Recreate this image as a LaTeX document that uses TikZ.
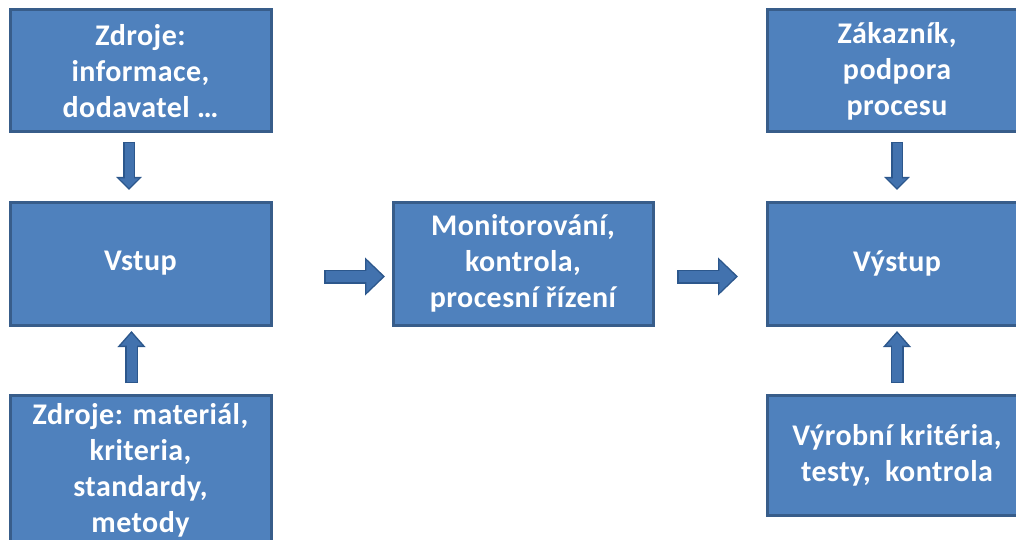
\documentclass[tikz,border=0pt]{standalone}
\usepackage{fontspec}
\setmainfont{Carlito}[LetterSpace=1.5]
\usetikzlibrary{arrows.meta,calc}
\definecolor{boxfill}{HTML}{4F81BD}
\definecolor{boxedge}{HTML}{385D8A}
\definecolor{arrowfill}{HTML}{4272AE}
\definecolor{arrowedge}{HTML}{2C578C}
\begin{document}
\begin{tikzpicture}[x=1pt,y=-1pt,
  box/.style={draw=boxedge, fill=boxfill, line width=3pt, outer sep=0pt,
    inner sep=0pt, text=white, align=center,
    font=\bfseries\fontsize{30}{36}\selectfont},
  % block arrow: shaft width, head width, head length, gap at start, gap at end
  blockarrow/.style n args={5}{draw=arrowedge, line width=#1,
    -{Triangle[length=#3,width=#2]}, shorten <=#4, shorten >=#5,
    postaction={draw=arrowfill, line width=#1-3pt,
      -{Triangle[length=#3-3.5pt,width=#2-6pt]},
      shorten <=#4+1.5pt, shorten >=#5+2.2pt}}]
\useasboundingbox (0,0) rectangle (1016,540);

% left column
\node[box, minimum width=261pt, minimum height=122pt] (tl) at (140.5,71)
  {Zdroje:\\informace,\\dodavatel …};
\node[box, minimum width=261pt, minimum height=123pt] (vs) at (140.5,263.5)
  {Vstup};
\node[box, minimum width=261pt, minimum height=150pt] (bl) at (140.5,470)
  {Zdroje: materiál,\\kriteria,\\standardy,\\metody};

% middle
\node[box, minimum width=260pt, minimum height=123pt] (mid) at (523,263.5)
  {Monitorování,\\kontrola,\\procesní řízení};

% right column
\node[box, minimum width=260pt, minimum height=122pt] (tr) at (897,71)
  {Zákazník,\\podpora\\procesu};
\node[box, minimum width=260pt, minimum height=123pt] (vy) at (897,263.5)
  {Výstup};
\node[box, minimum width=260pt, minimum height=120pt] (br) at (897,455)
  {Výrobní kritéria,\\testy,~ kontrola};

% connectors
\draw[blockarrow={12pt}{25pt}{13pt}{10pt}{12pt}]
  ([xshift=-11.5pt]tl.south) -- ([xshift=-11.5pt]vs.north);
\draw[blockarrow={13pt}{27pt}{16pt}{12pt}{6pt}]
  ([xshift=-9pt]bl.north) -- ([xshift=-9pt]vs.south);
\draw[blockarrow={14pt}{37pt}{20pt}{53pt}{8pt}]
  ([yshift=-13pt]vs.east) -- ([yshift=-13pt]mid.west);
\draw[blockarrow={14pt}{37pt}{20pt}{24pt}{29pt}]
  ([yshift=-13pt]mid.east) -- ([yshift=-13pt]vy.west);
\draw[blockarrow={12pt}{25pt}{13pt}{10pt}{12pt}]
  (tr.south) -- (vy.north);
\draw[blockarrow={13pt}{27pt}{16pt}{12pt}{6pt}]
  (br.north) -- (vy.south);
\end{tikzpicture}
\end{document}
